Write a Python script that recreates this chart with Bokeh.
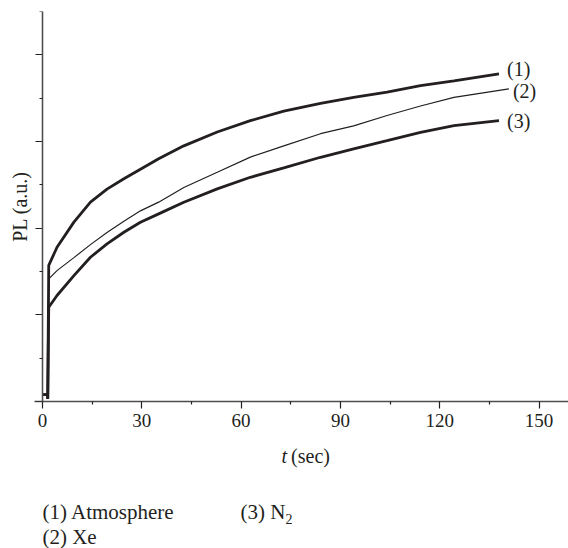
import math
from bokeh.plotting import figure
from bokeh.layouts import column
from bokeh.models import Range1d, ColumnDataSource, FixedTicker, LinearAxis
from bokeh.embed import file_html
from bokeh.resources import INLINE
from bokeh.core.properties import value

# ---- data ----
t_atm = [0, 1.5, 1.6, 1.9, 4.4, 9.5, 14.5, 19.5, 24.6, 29.6, 35.1, 42.7, 52.8,
         62.8, 72.9, 84.0, 94.0, 104.1, 114.2, 124.3, 137.9]
pl_atm = [0.08, 0.08, 0.03, 1.57, 1.78, 2.07, 2.30, 2.45, 2.57, 2.68, 2.80, 2.95, 3.11,
          3.24, 3.35, 3.44, 3.51, 3.57, 3.645, 3.70, 3.78]

t_xe = [0, 1.5, 1.6, 1.9, 4.4, 9.5, 14.5, 19.5, 24.6, 29.6, 35.1, 42.7, 52.8,
        62.8, 72.9, 84.0, 94.0, 104.1, 114.2, 124.3, 140.9]
pl_xe = [0.08, 0.08, 0.03, 1.415, 1.51, 1.66, 1.81, 1.95, 2.08, 2.20, 2.30, 2.47, 2.645,
         2.82, 2.95, 3.09, 3.18, 3.30, 3.41, 3.51, 3.607]

t_n2 = [0, 1.5, 1.6, 1.9, 4.4, 9.5, 14.5, 19.5, 24.6, 29.6, 35.1, 42.7, 52.8,
        62.8, 72.9, 84.0, 94.0, 104.1, 114.2, 124.3, 137.9]
pl_n2 = [0.08, 0.08, 0.03, 1.088, 1.223, 1.453, 1.664, 1.819, 1.953, 2.068, 2.165, 2.299, 2.453,
         2.587, 2.695, 2.818, 2.915, 3.010, 3.106, 3.183, 3.241]

x_ticks = [0, 30, 60, 90, 120, 150]
x_minor = [15, 45, 75, 105, 135]
y_ticks = [0, 1, 2, 3, 4]
y_minor = [0.5, 1.5, 2.5, 3.5, 4.5]

curve_tags = ["(1)", "(2)", "(3)"]
legend_items = ["(1) Atmosphere", "(2) Xe", "(3) N"]
y_title = "PL (a.u.)"

# ---- styling ----
INK = "#231f20"
FONT = "Liberation Serif"

p = figure(width=568, height=440, output_backend="svg", toolbar_location=None,
           x_range=Range1d(-2.4, 158.9), y_range=Range1d(0, 4.5),
           y_axis_location=None,
           min_border_left=34, min_border_right=0, min_border_top=11,
           min_border_bottom=39)
p.outline_line_color = None
p.xgrid.visible = False
p.ygrid.visible = False

# x axis
xa = p.xaxis[0]
xa.ticker = FixedTicker(ticks=x_ticks, minor_ticks=x_minor)
xa.axis_line_color = "#4d4d4d"
xa.axis_line_width = 1.3
xa.major_tick_line_color = INK
xa.minor_tick_line_color = INK
xa.major_tick_line_width = 1.2
xa.minor_tick_line_width = 1.2
xa.major_tick_in = 0
xa.major_tick_out = 7
xa.minor_tick_in = 0
xa.minor_tick_out = 3
xa.major_label_text_font = FONT
xa.major_label_text_font_size = "19px"
xa.major_label_text_color = INK
xa.major_label_standoff = 5

# y title carried by a tick-less axis at the frame edge
ta = LinearAxis(ticker=FixedTicker(ticks=[]), axis_label=y_title,
                axis_line_color=None, major_tick_out=0, major_tick_in=0,
                minor_tick_out=0, minor_tick_in=0, major_label_standoff=0,
                axis_label_standoff=4, axis_label_text_font=FONT,
                axis_label_text_font_size="20px", axis_label_text_font_style="normal",
                axis_label_text_color=INK)
p.add_layout(ta, "left")

# y axis at t = 0, unlabeled: long ticks at whole units, short ticks at halves
for marks, length in ((y_ticks, 7), (y_minor, 3)):
    ya = LinearAxis(ticker=FixedTicker(ticks=[], minor_ticks=marks), fixed_location=0)
    ya.axis_line_color = "#4d4d4d"
    ya.axis_line_width = 1.3
    ya.major_tick_out = 0
    ya.major_tick_in = 0
    ya.major_label_standoff = 0
    ya.minor_tick_line_color = INK
    ya.minor_tick_line_width = 1.2
    ya.minor_tick_in = 0
    ya.minor_tick_out = length
    p.add_layout(ya, "left")

# ---- curves ----
p.line(t_atm, pl_atm, line_color=INK, line_width=2.8)
p.line(t_xe, pl_xe, line_color=INK, line_width=1.2)
p.line(t_n2, pl_n2, line_color=INK, line_width=2.8)

tag_src = ColumnDataSource(dict(
    x=[t_atm[-1], t_xe[-1], t_n2[-1]],
    y=[pl_atm[-1], pl_xe[-1], pl_n2[-1]],
    text=curve_tags,
    xo=[8, 4, 8],
    yo=[-5, 2, 0],
))
p.text(x="x", y="y", text="text", x_offset="xo", y_offset="yo", source=tag_src,
       text_font=value(FONT), text_font_size="20px", text_color=INK,
       text_align="left", text_baseline="middle")

# ---- lower strip: x-axis title and the key ----
# shares the time axis; vertical coordinate = pixel row of the page
q = figure(width=568, height=108, output_backend="svg", toolbar_location=None,
           x_range=p.x_range, y_range=Range1d(548, 440),
           x_axis_location=None, y_axis_location=None,
           min_border_left=34, min_border_right=0, min_border_top=0,
           min_border_bottom=0)
q.outline_line_color = None
q.xgrid.visible = False
q.ygrid.visible = False

def txt(s, x, y, size="21px", style="normal"):
    q.text(x=[x], y=[y], text=[s], text_font=value(FONT), text_font_size=size,
           text_font_style=style, text_color=INK, text_align="left",
           text_baseline="middle")

txt("t", 72.2, 455.5, size="20px", style="italic")
txt("(sec)", 75.1, 455.5, size="20px")
txt(legend_items[0], 0.0, 511.5)
txt(legend_items[2], 59.8, 511.5)
txt("2", 73.4, 518.5, size="14px")
txt(legend_items[1], 0.0, 536.5)

open("out.html", "w").write(file_html(column(p, q, spacing=0), INLINE))
